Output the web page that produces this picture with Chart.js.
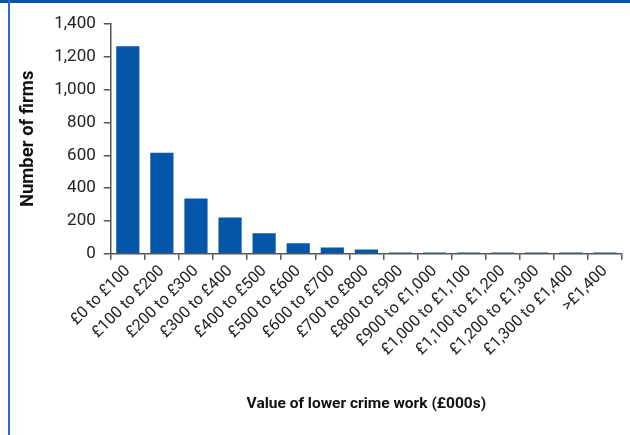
<!DOCTYPE html>
<html>
<head>
<meta charset="utf-8">
<script src="https://cdn.jsdelivr.net/npm/chart.js@4/dist/chart.umd.min.js"></script>
<style>
    html, body { margin: 0; padding: 0; background: #fff; }
    #wrap { position: relative; width: 630px; height: 435px; overflow: hidden; }
    #topbar { position: absolute; left: 0; top: 0; width: 630px; height: 3px; background: #0457a8; }
    #leftbar { position: absolute; left: 8px; top: 0; width: 2px; height: 435px; background: #2a6cc4; }
    canvas { position: absolute; left: 0; top: 0; }
</style>
</head>
<body>
<div id="wrap">
    <canvas id="chart" width="630" height="435"></canvas>
    <div id="topbar"></div>
    <div id="leftbar"></div>
</div>
<script>
// Firms by value of lower crime work
const bands = [
    '£0 to £100', '£100 to £200', '£200 to £300', '£300 to £400', '£400 to £500',
    '£500 to £600', '£600 to £700', '£700 to £800', '£800 to £900', '£900 to £1,000',
    '£1,000 to £1,100', '£1,100 to £1,200', '£1,200 to £1,300', '£1,300 to £1,400', '>£1,400'
];
const firmCounts = [1265, 615, 337, 221, 124, 63, 38, 26, 8, 8, 8, 8, 8, 8, 8];
const yTicks = [0, 200, 400, 600, 800, 1000, 1200, 1400];

const barBlue = '#0457a8';
const axisGrey = '#555';
const fontFamily = 'Roboto, "DejaVu Sans", sans-serif';

const ctx = document.getElementById('chart').getContext('2d');
const chart = new Chart(ctx, {
    type: 'bar',
    data: {
        labels: bands,
        datasets: [{
            data: firmCounts,
            backgroundColor: barBlue,
            borderWidth: 0,
            barPercentage: 0.68,
            categoryPercentage: 1.0,
        }]
    },
    options: {
        responsive: false,
        animation: false,
        layout: { padding: { left: 17, right: 8, top: 24, bottom: 22 } },
        plugins: {
            legend: { display: false },
            tooltip: { enabled: false }
        },
        scales: {
            x: {
                offset: true,
                grid: {
                    offset: true,
                    drawOnChartArea: false,
                    drawTicks: true,
                    tickLength: 6,
                    color: axisGrey,
                    lineWidth: 1.5,
                },
                border: { display: true, color: axisGrey, width: 1.5 },
                ticks: {
                    color: '#222',
                    font: { family: fontFamily, size: 16 },
                    maxRotation: 45,
                    minRotation: 45,
                    autoSkip: false,
                    padding: 2,
                },
                title: {
                    display: true,
                    text: 'Value of lower crime work (£000s)',
                    color: '#111',
                    font: { family: fontFamily, size: 15.5, weight: 'bold' },
                    padding: { top: 33, bottom: 0 },
                }
            },
            y: {
                min: 0,
                max: 1400,
                afterBuildTicks: (axis) => {
                    axis.ticks = yTicks.map(v => ({ value: v }));
                },
                grid: {
                    drawOnChartArea: false,
                    drawTicks: true,
                    tickLength: 7,
                    color: axisGrey,
                    lineWidth: 1.5,
                },
                border: { display: true, color: axisGrey, width: 1.5 },
                ticks: {
                    color: '#222',
                    font: { family: fontFamily, size: 17 },
                    padding: 8,
                    callback: (v) => v.toLocaleString('en-GB'),
                },
                title: {
                    display: true,
                    text: 'Number of firms',
                    color: '#111',
                    font: { family: fontFamily, size: 18.5, weight: 'bold' },
                    padding: { top: 0, bottom: 7 },
                }
            }
        }
    }
});
</script>
</body>
</html>
